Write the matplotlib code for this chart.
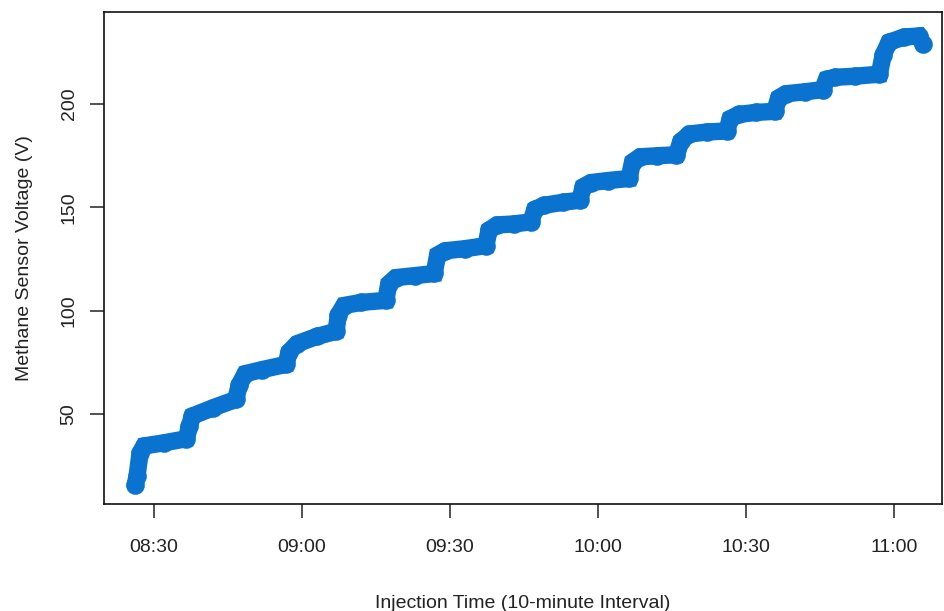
import matplotlib
matplotlib.use("Agg")
import matplotlib.pyplot as plt

# minutes after 08:00 and sensor voltage
minutes = [26.2, 26.6, 27.2, 28.0, 32.0, 36.6, 37.2, 37.8, 42.0, 46.6,
           47.3, 48.5, 52.0, 56.8, 57.4, 59.0, 63.0, 66.9, 67.4, 68.5,
           72.0, 77.0, 77.6, 79.0, 83.0, 86.8, 87.5, 89.0, 93.0, 97.3,
           97.9, 99.5, 103.0, 106.4, 107.2, 109.0, 113.0, 116.3, 117.0, 118.5,
           122.0, 126.3, 127.0, 128.5, 132.0, 135.9, 136.8, 138.5, 142.0, 146.1,
           146.8, 148.5, 152.0, 155.8, 156.6, 158.0, 162.0, 165.5, 166.3, 168.0,
           172.0, 177.0, 177.8, 179.0, 182.0, 185.0, 185.9]
voltage = [15.5, 20.0, 31.0, 34.5, 36.0, 38.0, 44.0, 49.0, 53.0, 57.0,
           64.0, 69.5, 71.5, 74.0, 80.0, 84.0, 87.5, 90.0, 98.0, 102.5,
           104.0, 105.0, 113.0, 116.0, 117.0, 118.0, 127.0, 129.0, 130.0, 131.5,
           139.0, 141.5, 142.0, 143.0, 149.0, 151.0, 152.5, 153.5, 160.0, 162.0,
           163.0, 164.0, 172.0, 174.5, 175.0, 175.5, 182.0, 185.5, 186.5, 187.0,
           193.0, 195.0, 196.0, 196.5, 203.0, 205.0, 206.0, 207.0, 212.0, 213.0,
           213.5, 214.5, 224.0, 230.0, 232.5, 233.0, 229.0]

tick_minutes = [30, 60, 90, 120, 150, 180]
tick_labels = ["08:30", "09:00", "09:30", "10:00", "10:30", "11:00"]
y_ticks = [50, 100, 150, 200]

BLUE = "#0A73D0"

plt.rcParams["font.family"] = ["Liberation Sans", "DejaVu Sans"]

fig = plt.figure(figsize=(9.44, 6.11), dpi=100)
ax = fig.add_axes([104 / 944, 107 / 611, (942 - 104) / 944, (504 - 12) / 611])

ax.plot(minutes, voltage, color=BLUE, lw=12.5, solid_joinstyle="miter",
        solid_capstyle="round")
ax.plot(minutes, voltage, ls="none", marker="o", ms=12, mfc="none",
        mec=BLUE, mew=1.4)

ax.set_xlim(19.9, 189.7)
ax.set_ylim(6.4, 244.6)

ax.set_xticks(tick_minutes)
ax.set_xticklabels(tick_labels)
ax.set_yticks(y_ticks)
ax.set_yticklabels([str(v) for v in y_ticks], rotation=90, va="center")

ax.tick_params(axis="both", direction="out", length=10, width=1.1,
               labelsize=14, colors="#222222")
ax.tick_params(axis="x", pad=15)
ax.tick_params(axis="y", pad=9)
for sp in ax.spines.values():
    sp.set_linewidth(1.2)
    sp.set_color("#111111")

ax.set_xlabel("Injection Time (10-minute Interval)", fontsize=14,
              labelpad=28, color="#222222")
ax.set_ylabel("Methane Sensor Voltage (V)", fontsize=14, labelpad=20,
              color="#222222")

fig.savefig("out.png", dpi=100)
